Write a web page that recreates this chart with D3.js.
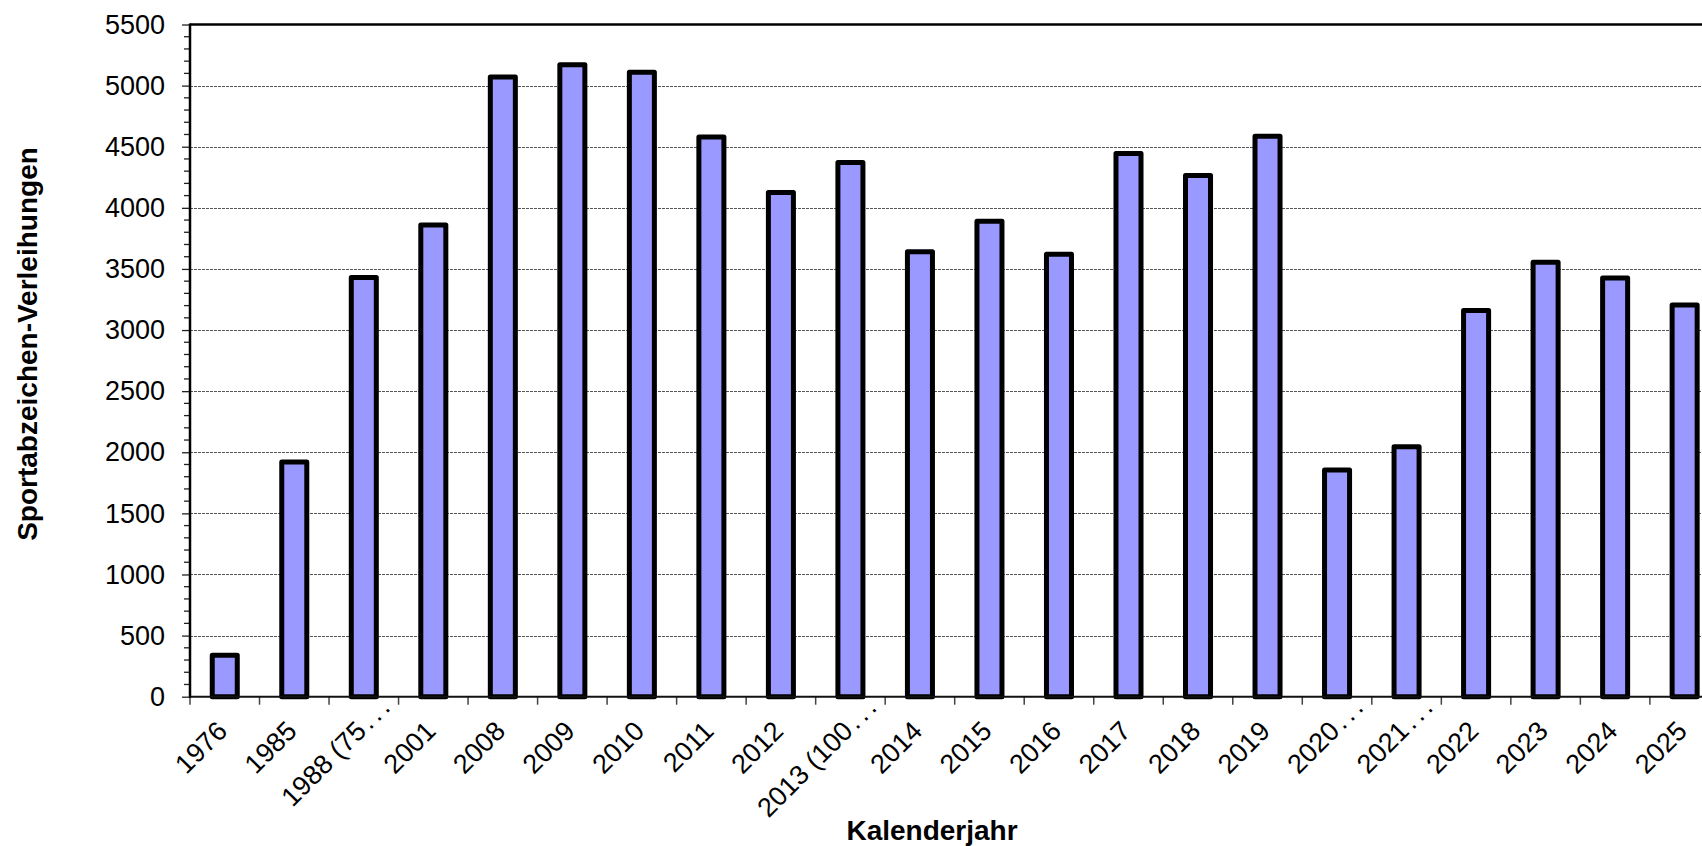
<!DOCTYPE html>
<html>
<head>
<meta charset="utf-8">
<script src="https://cdn.jsdelivr.net/npm/d3@7"></script>
<style>
  body { margin: 0; background: #fff; overflow: hidden; }
  text { font-family: "Liberation Sans", Arial, sans-serif; fill: #000; }
</style>
</head>
<body>
<script>
// Daten: Kalenderjahr und Anzahl der Sportabzeichen-Verleihungen
var jahre = ["1976", "1985", "1988 (75…", "2001", "2008", "2009", "2010", "2011",
  "2012", "2013 (100…", "2014", "2015", "2016", "2017", "2018", "2019",
  "2020…", "2021…", "2022", "2023", "2024", "2025"];
var verleihungen = [340, 1920, 3430, 3860, 5070, 5170, 5110, 4580,
  4125, 4370, 3640, 3890, 3620, 4445, 4265, 4585,
  1855, 2045, 3160, 3555, 3425, 3205];
var yTicks = [0, 500, 1000, 1500, 2000, 2500, 3000, 3500, 4000, 4500, 5000, 5500];

// Canvas und Plotbereich
var w = 1702;
var h = 846;
var plotLeft = 190;
var plotTop = 24.5;
var plotBottom = 696.7;
var plotRight = 1719.4; // Plotbereich geht rechts über den Rand hinaus

var dataset = jahre.map(function (j, i) {
  return { jahr: j, wert: verleihungen[i] };
});

var svg = d3.select("body").append("svg").attr("width", w).attr("height", h);

var xScale = d3.scaleBand()
  .domain(jahre)
  .range([plotLeft, plotRight])
  .paddingInner(0.64)
  .paddingOuter(0.32);

var yScale = d3.scaleLinear()
  .domain([0, 5500])
  .range([plotBottom, plotTop]);

var step = xScale.step();

// Gitterlinien (gestrichelt)
svg.append("g")
  .selectAll("line")
  .data(yTicks.filter(function (d) { return d > 0 && d < 5500; }))
  .enter()
  .append("line")
  .attr("x1", plotLeft)
  .attr("x2", plotRight)
  .attr("y1", function (d) { return Math.round(yScale(d)) + 0.5; })
  .attr("y2", function (d) { return Math.round(yScale(d)) + 0.5; })
  .attr("stroke", "#555")
  .attr("stroke-width", 1)
  .attr("stroke-dasharray", "3,1");

// obere Rahmenlinie
svg.append("line")
  .attr("x1", plotLeft).attr("x2", plotRight)
  .attr("y1", yScale(5500)).attr("y2", yScale(5500))
  .attr("stroke", "#000")
  .attr("stroke-width", 2.5);

// Balken
svg.selectAll(".bar")
  .data(dataset)
  .enter()
  .append("rect")
  .attr("class", "bar")
  .attr("x", function (d) { return xScale(d.jahr); })
  .attr("width", xScale.bandwidth())
  .attr("y", function (d) { return yScale(d.wert); })
  .attr("height", function (d) { return yScale(0) - yScale(d.wert); })
  .attr("fill", "#9999ff")
  .attr("stroke", "#000")
  .attr("stroke-width", 5)
  .attr("stroke-linejoin", "round");

// X-Achse: Linie und Striche an den Kategoriegrenzen
var xAxis = svg.append("g").attr("class", "axis");
xAxis.selectAll("line.tick")
  .data(d3.range(jahre.length + 1))
  .enter()
  .append("line")
  .attr("class", "tick")
  .attr("x1", function (i) { return plotLeft + i * step; })
  .attr("x2", function (i) { return plotLeft + i * step; })
  .attr("y1", plotBottom)
  .attr("y2", plotBottom + 8)
  .attr("stroke", "#444")
  .attr("stroke-width", 1.5);
xAxis.append("line")
  .attr("x1", plotLeft).attr("x2", plotRight)
  .attr("y1", plotBottom).attr("y2", plotBottom)
  .attr("stroke", "#111")
  .attr("stroke-width", 2);

// X-Beschriftungen, -45° gedreht; abgeschnittene Texte hängen "…" an
var labels = xAxis.selectAll("g.label")
  .data(jahre)
  .enter()
  .append("g")
  .attr("class", "label")
  .attr("transform", function (d) {
    var cx = xScale(d) + xScale.bandwidth() / 2 + 4;
    return "translate(" + cx + "," + (plotBottom + 36) + ") rotate(-45)";
  });
labels.append("text")
  .attr("text-anchor", "end")
  .attr("font-size", "27px")
  .text(function (d) { return d.split("…")[0]; });
labels.filter(function (d) { return d.indexOf("…") >= 0; })
  .append("text")
  .attr("x", 3)
  .attr("font-size", "27px")
  .attr("letter-spacing", "4px")
  .text("...");

// Y-Achse mit Haupt- und Nebenstrichen
var yAxis = d3.axisLeft(yScale)
  .tickValues(yTicks)
  .tickSize(8)
  .tickPadding(17)
  .tickFormat(d3.format("d"));

var gy = svg.append("g")
  .attr("transform", "translate(" + plotLeft + ",0)");

gy.selectAll("line.minor")
  .data(d3.range(0, 5501, 100).filter(function (d) { return d % 500 !== 0; }))
  .enter()
  .append("line")
  .attr("class", "minor")
  .attr("x1", -6)
  .attr("x2", 0)
  .attr("y1", function (d) { return yScale(d); })
  .attr("y2", function (d) { return yScale(d); })
  .attr("stroke", "#222")
  .attr("stroke-width", 1.3);

gy.call(yAxis);
gy.select(".domain").remove();
gy.selectAll(".tick line").attr("stroke", "#222").attr("stroke-width", 1.3);
gy.selectAll(".tick text")
  .attr("font-size", "27px")
  .attr("font-family", "Liberation Sans, Arial, sans-serif")
  .attr("fill", "#000");
gy.append("line")
  .attr("x1", 0).attr("x2", 0)
  .attr("y1", plotTop - 1).attr("y2", plotBottom + 1)
  .attr("stroke", "#000")
  .attr("stroke-width", 2.5);

// Achsentitel
svg.append("text")
  .attr("transform", "translate(37," + 344 + ") rotate(-90)")
  .attr("text-anchor", "middle")
  .attr("font-size", "28px")
  .attr("font-weight", "bold")
  .text("Sportabzeichen-Verleihungen");

svg.append("text")
  .attr("x", 932)
  .attr("y", 840)
  .attr("text-anchor", "middle")
  .attr("font-size", "28px")
  .attr("font-weight", "bold")
  .text("Kalenderjahr");
</script>
</body>
</html>
